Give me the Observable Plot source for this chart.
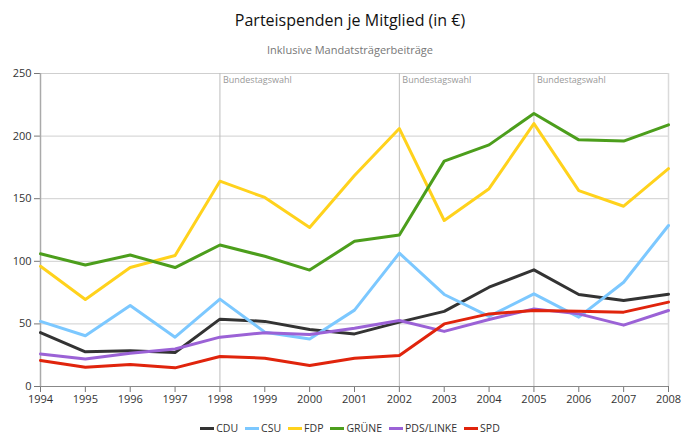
<!DOCTYPE html>
<html><head><meta charset="utf-8">
<script src="https://cdn.jsdelivr.net/npm/d3@7"></script>
<script src="https://cdn.jsdelivr.net/npm/@observablehq/plot@0.6"></script>
<style>
body{margin:0;background:#fff;font-family:"Open Sans",sans-serif;}
#wrap{width:700px;}
#title{height:38px;line-height:38px;text-align:center;font-size:16px;color:#111;padding-top:1px;}
#subtitle{height:21px;line-height:21px;text-align:center;font-size:11px;color:#777;}
#legend{display:flex;justify-content:center;gap:7px;font-size:10.5px;color:#333;margin-top:1px;}
#legend span.item{display:flex;align-items:center;gap:2px;}
#legend span.sw{display:inline-block;width:14px;height:3px;}
</style></head>
<body><div id="wrap">
<div id="title">Parteispenden je Mitglied (in €)</div>
<div id="subtitle">Inklusive Mandatsträgerbeiträge</div>
<div id="chart"></div>
<div id="legend"></div>
</div>
<script>
const years = [1994,1995,1996,1997,1998,1999,2000,2001,2002,2003,2004,2005,2006,2007,2008];
const parties = ["CDU","CSU","FDP","GRÜNE","PDS/LINKE","SPD"];
const colors = ["#333333","#7cc8ff","#ffd21c","#4c9e1c","#9b62d6","#e0240c"];
const cdu   = [43,27.7,28.5,27.2,53.8,52,45.5,42,51.4,60,79.3,93.2,73.5,68.7,73.7];
const csu   = [52,40.5,64.7,39.4,69.8,43.4,38,61,106.5,73.5,56,74,55.4,83.3,128.6];
const fdp   = [96,69.5,95,104.6,164,151,127,168.5,206,132.6,158,210,156.5,144,174];
const gruene= [106,97,105,95,113,104,93,116,121,180,193,218,197,196,209];
const pds   = [26,22,26.6,30,39.4,43,41.5,46.6,52.7,44,53.5,62,58,49,60.7];
const spd   = [20.8,15.4,17.6,14.9,24,22.6,16.8,22.6,24.8,50,58,60.7,60.2,59.4,67.4];
const elections = [1998,2002,2005];
const electionLabel = "Bundestagswahl";
const yTicks = [0,50,100,150,200,250];

const series = [cdu,csu,fdp,gruene,pds,spd];
const data = [];
parties.forEach((p,i)=>years.forEach((y,j)=>data.push({party:p,year:y,value:series[i][j]})));

const chart = Plot.plot({
  width:700, height:360,
  marginTop:13, marginBottom:34, marginLeft:40, marginRight:32,
  style:{fontFamily:"Open Sans, sans-serif", fontSize:"11px", color:"#333", background:"#fff"},
  x:{domain:[1994,2008], ticks:years, tickFormat:"d", label:null},
  y:{domain:[0,250], ticks:yTicks, label:null},
  color:{domain:parties, range:colors},
  marks:[
    Plot.ruleY(yTicks.filter(d=>d>0), {stroke:"#cfcfcf", strokeWidth:1}),
    Plot.ruleX(elections, {stroke:"#bdbdbd", strokeWidth:1}),
    Plot.ruleX([2008], {stroke:"#dadada", strokeWidth:1.5}),
    Plot.text(elections, {x:d=>d, y:250, text:()=>electionLabel, dx:3, dy:7, textAnchor:"start", fill:"#999", fontSize:9}),
    Plot.axisX({ticks:years, tickFormat:"d", tickSize:6, tickPadding:3, stroke:"#777", fill:"#333", fontSize:11}),
    Plot.axisY({ticks:yTicks, tickSize:6, tickPadding:3, stroke:"#777", fill:"#333", fontSize:11}),
    Plot.ruleY([0], {stroke:"#888"}),
    Plot.ruleX([1994], {stroke:"#aaa", strokeWidth:1.5}),
    Plot.line(data, {x:"year", y:"value", z:"party", stroke:"party", strokeWidth:3, strokeLinejoin:"round"})
  ]
});
document.getElementById("chart").appendChild(chart);

const leg = document.getElementById("legend");
parties.forEach((p,i)=>{
  const it = document.createElement("span"); it.className="item";
  const sw = document.createElement("span"); sw.className="sw"; sw.style.background=colors[i];
  const t = document.createElement("span"); t.textContent=p;
  it.appendChild(sw); it.appendChild(t); leg.appendChild(it);
});
</script>
</body></html>
